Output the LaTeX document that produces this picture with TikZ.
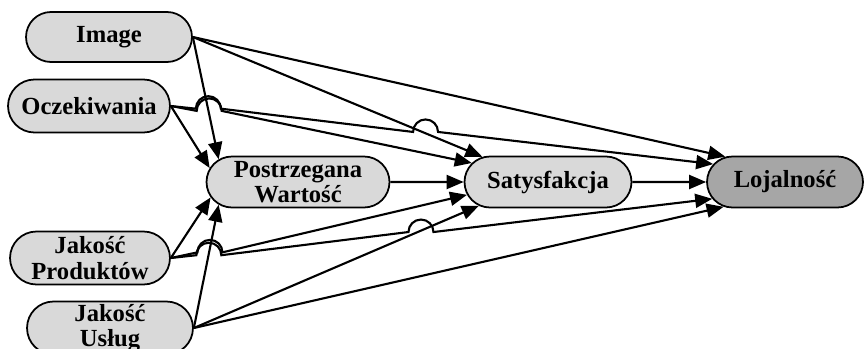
\documentclass[tikz,border=0pt]{standalone}
\usepackage{fontspec}
\setmainfont{Liberation Serif}
\usepackage{tikz}
\usetikzlibrary{arrows.meta}
\usetikzlibrary{shapes.misc, calc}

\begin{document}
\begin{tikzpicture}[x=0.02cm, y=-0.02cm,
  factor/.style={rounded rectangle, draw, line width=1pt, fill=black!15, align=center, inner sep=0pt, font=\bfseries\fontsize{14}{14.5}\selectfont},
  link/.style={-{Triangle[length=3.4mm, width=2.8mm]}, line width=1.2pt}]
\useasboundingbox (0,0) rectangle (864,348);

\node[factor, minimum width=3.32cm, minimum height=1cm] (img) at (109,37) {Image};
\node[factor, minimum width=3.24cm, minimum height=1.06cm] (ocz) at (89,106) {Oczekiwania};
\node[factor, minimum width=3.2cm, minimum height=1.06cm] (jp) at (90,258) {Jakość\\Produktów};
\node[factor, minimum width=3.32cm, minimum height=1.06cm] (ju) at (110,328) {Jakość\\Usług};
\node[factor, minimum width=3.66cm, minimum height=1.02cm] (pw) at (298,182) {Postrzegana\\Wartość};
\node[factor, minimum width=3.34cm, minimum height=1.02cm] (sat) at (548,182) {Satysfakcja};
\node[factor, minimum width=3.12cm, minimum height=1.02cm, fill=black!35] (loj) at (785,182) {Lojalność};

% crossings
\coordinate (h1) at (intersection of img.east--pw.164 and ocz.east--sat.166);
\coordinate (h2) at (intersection of img.east--pw.164 and ocz.east--loj.166);
\coordinate (h3) at (intersection of img.east--sat.159 and ocz.east--loj.166);
\coordinate (h4) at (intersection of ju.east--pw.196 and jp.east--sat.189);
\coordinate (h5) at (intersection of ju.east--pw.196 and jp.east--loj.193);
\coordinate (h6) at (intersection of ju.east--sat.199 and jp.east--loj.193);

\draw[link] (img.east) -- (pw.164);
\draw[link] (img.east) -- (sat.159);
\draw[link] (img.east) -- (loj.157);
\draw[link] (ocz.east) -- (pw.171);
\draw[link] (ocz.east) -- ($(h1)!2.5mm!(ocz.east)$) arc[start angle=180, end angle=0, radius=2.5mm] -- (sat.166);
\draw[link] (ocz.east) -- ($(h2)!2.5mm!(ocz.east)$) arc[start angle=180, end angle=0, radius=2.5mm]
  -- ($(h3)!2.5mm!(ocz.east)$) arc[start angle=180, end angle=0, radius=2.5mm] -- (loj.166);
\draw[link] (pw) -- (sat);
\draw[link] (sat) -- (loj);
\draw[link] (jp.east) -- (pw.190);
\draw[link] (jp.east) -- ($(h4)!2.5mm!(jp.east)$) arc[start angle=180, end angle=0, radius=2.5mm] -- (sat.189);
\draw[link] (jp.east) -- ($(h5)!2.5mm!(jp.east)$) arc[start angle=180, end angle=0, radius=2.5mm]
  -- ($(h6)!2.5mm!(jp.east)$) arc[start angle=180, end angle=0, radius=2.5mm] -- (loj.193);
\draw[link] (ju.east) -- (pw.196);
\draw[link] (ju.east) -- (sat.199);
\draw[link] (ju.east) -- (loj.202);
\end{tikzpicture}
\end{document}
